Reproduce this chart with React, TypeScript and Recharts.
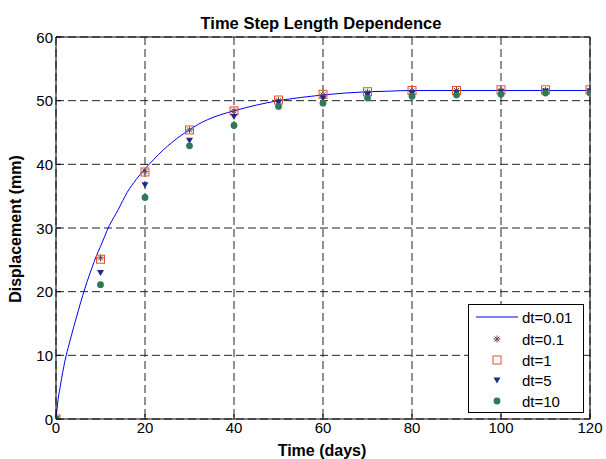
import { ComposedChart, Line, Scatter, XAxis, YAxis, CartesianGrid } from 'recharts';

const xTicks = [0, 20, 40, 60, 80, 100, 120];
const yTicks = [0, 10, 20, 30, 40, 50, 60];

// dt=0.01 (fine solution, drawn as a line)
const fineT = [0, 0.5, 1, 2, 3, 4, 5, 6, 7, 8, 9, 10, 12, 14, 15, 16, 18, 20, 22, 24, 26, 28, 30, 32, 34, 37, 40, 45, 50, 55, 60, 65, 70, 75, 80, 90, 100, 110, 120];
const fineDisp = [0, 3.2, 5.3, 9.1, 11.9, 14.5, 17.0, 19.4, 21.6, 23.6, 25.5, 27.1, 30.4, 32.9, 34.3, 35.6, 37.6, 39.3, 40.8, 42.2, 43.4, 44.5, 45.4, 46.3, 47.0, 47.8, 48.4, 49.3, 50.0, 50.5, 50.9, 51.2, 51.4, 51.5, 51.6, 51.6, 51.6, 51.6, 51.6];

// coarser steps, shown as markers every 10 days
const markerT = [0, 10, 20, 30, 40, 50, 60, 70, 80, 90, 100, 110, 120];
const dt01 = [0, 25.3, 38.9, 45.4, 48.4, 50.0, 50.9, 51.3, 51.5, 51.6, 51.6, 51.6, 51.6];
const dt1 = [0, 25.1, 38.8, 45.4, 48.4, 50.1, 51.0, 51.4, 51.6, 51.6, 51.7, 51.7, 51.7];
const dt5 = [0, 23.0, 36.8, 43.8, 47.5, 49.8, 50.4, 51.0, 51.2, 51.3, 51.4, 51.5, 51.5];
const dt10 = [0, 21.1, 34.8, 42.9, 46.1, 49.1, 49.6, 50.4, 50.7, 50.9, 51.0, 51.2, 51.2];

const legendNames = ['dt=0.01', 'dt=0.1', 'dt=1', 'dt=5', 'dt=10'];

const FONT = '"Liberation Sans", Arial, Helvetica, sans-serif';
const STAR = '#664455';
const SQUARE = '#e4502c';
const TRI = '#1c2a8c';
const DOT = '#2d7a58';

const lineData = fineT.map((t, i) => ({ t, v: fineDisp[i] }));
const toPts = (vals: number[]) => markerT.map((t, i) => ({ t, v: vals[i] }));

function StarMark({ cx, cy }: any) {
  const r = 3.5;
  const d = 2.5;
  return (
    <g stroke={STAR} strokeWidth={1}>
      <line x1={cx - r} y1={cy} x2={cx + r} y2={cy} />
      <line x1={cx} y1={cy - r} x2={cx} y2={cy + r} />
      <line x1={cx - d} y1={cy - d} x2={cx + d} y2={cy + d} />
      <line x1={cx - d} y1={cy + d} x2={cx + d} y2={cy - d} />
    </g>
  );
}

function SquareMark({ cx, cy }: any) {
  return <rect x={cx - 4} y={cy - 4} width={8} height={8} fill="none" stroke={SQUARE} strokeWidth={1} />;
}

function TriMark({ cx, cy }: any) {
  return <polygon points={`${cx - 3.5},${cy - 2.5} ${cx + 3.5},${cy - 2.5} ${cx},${cy + 3.5}`} fill={TRI} />;
}

function DotMark({ cx, cy }: any) {
  return <circle cx={cx} cy={cy} r={3.4} fill={DOT} />;
}

function BottomTick({ x, y, payload }: any) {
  return (
    <g>
      <line x1={x} y1={y} x2={x} y2={y - 5} stroke="#000" />
      <text x={x} y={y + 14} textAnchor="middle" fontFamily={FONT} fontSize={15} fill="#000">
        {payload.value}
      </text>
    </g>
  );
}

function LeftTick({ x, y, payload }: any) {
  return (
    <g>
      <line x1={x} y1={y} x2={x + 5} y2={y} stroke="#000" />
      <text x={x - 3} y={y + 5.5} textAnchor="end" fontFamily={FONT} fontSize={15} fill="#000">
        {payload.value}
      </text>
    </g>
  );
}

function TopTick({ x, y }: any) {
  return <line x1={x} y1={y} x2={x} y2={y + 5} stroke="#000" />;
}

function RightTick({ x, y }: any) {
  return <line x1={x} y1={y} x2={x - 5} y2={y} stroke="#000" />;
}

function LegendIcon({ i, cx, cy }: { i: number; cx: number; cy: number }) {
  if (i === 0) return <line x1={476} y1={cy} x2={518} y2={cy} stroke="#0000ff" strokeWidth={1} />;
  if (i === 1) return <StarMark cx={cx} cy={cy} />;
  if (i === 2) return <SquareMark cx={cx} cy={cy} />;
  if (i === 3) return <TriMark cx={cx} cy={cy} />;
  return <DotMark cx={cx} cy={cy} />;
}

export default function App() {
  const legendY = [317, 339, 360, 380, 401];
  return (
    <div style={{ position: 'absolute', left: 0, top: 0, width: 606, height: 459, background: '#fff' }}>
      <ComposedChart width={606} height={459} margin={{ top: 36, right: 15, bottom: 39, left: 55 }}>
        <CartesianGrid stroke="#222" strokeDasharray="8 4" />
        <XAxis
          type="number"
          dataKey="t"
          domain={[0, 120]}
          ticks={xTicks}
          height={1}
          tickSize={0}
          tickMargin={0}
          tick={BottomTick}
          tickLine={false}
          axisLine={{ stroke: '#000' }}
          allowDataOverflow
        />
        <XAxis
          xAxisId="top"
          orientation="top"
          type="number"
          dataKey="t"
          domain={[0, 120]}
          ticks={xTicks}
          height={1}
          tickSize={0}
          tickMargin={0}
          tick={TopTick}
          tickLine={false}
          axisLine={{ stroke: '#000' }}
        />
        <YAxis
          type="number"
          domain={[0, 60]}
          ticks={yTicks}
          width={1}
          tickSize={0}
          tickMargin={0}
          tick={LeftTick}
          tickLine={false}
          axisLine={{ stroke: '#000' }}
          allowDataOverflow
        />
        <YAxis
          yAxisId="right"
          orientation="right"
          type="number"
          domain={[0, 60]}
          ticks={yTicks}
          width={1}
          tickSize={0}
          tickMargin={0}
          tick={RightTick}
          tickLine={false}
          axisLine={{ stroke: '#000' }}
        />
        <Line data={lineData} dataKey="v" type="monotone" stroke="#0000ff" strokeWidth={1} dot={false} isAnimationActive={false} />
        <Scatter data={toPts(dt01)} dataKey="v" shape={StarMark} isAnimationActive={false} />
        <Scatter data={toPts(dt1)} dataKey="v" shape={SquareMark} isAnimationActive={false} />
        <Scatter data={toPts(dt5)} dataKey="v" shape={TriMark} isAnimationActive={false} />
        <Scatter data={toPts(dt10)} dataKey="v" shape={DotMark} isAnimationActive={false} />
      </ComposedChart>
      <svg width={606} height={459} style={{ position: 'absolute', left: 0, top: 0, pointerEvents: 'none' }}>
        <text x={321} y={29} textAnchor="middle" fontFamily={FONT} fontWeight="bold" fontSize={16.5}>
          Time Step Length Dependence
        </text>
        <text x={322} y={455.5} textAnchor="middle" fontFamily={FONT} fontWeight="bold" fontSize={16}>
          Time (days)
        </text>
        <text
          x={20.5}
          y={229}
          textAnchor="middle"
          fontFamily={FONT}
          fontWeight="bold"
          fontSize={16}
          transform="rotate(-90 20.5 229)"
        >
          Displacement (mm)
        </text>
        <rect x={468.5} y={304.5} width={115} height={108} fill="#fff" stroke="#000" strokeWidth={1} />
        {legendNames.map((name, i) => (
          <g key={name}>
            <LegendIcon i={i} cx={497} cy={legendY[i]} />
            <text x={522} y={legendY[i] + 5.5} fontFamily={FONT} fontSize={15} fill="#000">
              {name}
            </text>
          </g>
        ))}
      </svg>
    </div>
  );
}
